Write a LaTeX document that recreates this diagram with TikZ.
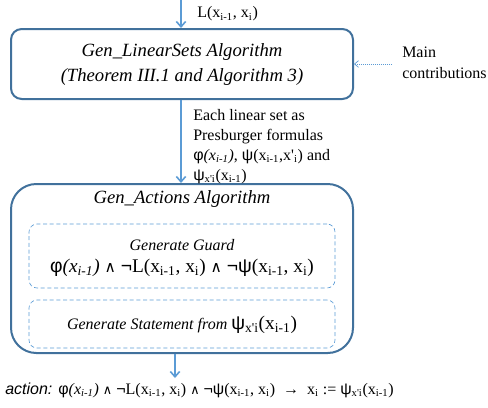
\documentclass[tikz,border=0pt]{standalone}
\usepackage{fontspec}
\setmainfont{Liberation Serif}
\newfontfamily\arial{Liberation Sans}
\newfontfamily\dejavu{DejaVu Sans}
\usetikzlibrary{arrows.meta}
\definecolor{boxblue}{HTML}{41719C}
\definecolor{arrblue}{HTML}{5B9BD5}
\newcommand{\sub}[1]{\textsubscript{#1}}
\newcommand{\phiv}{{\arial φ}}
\newcommand{\psiv}{{\arial ψ}}
\newcommand{\andnot}{{\dejavu\scalebox{0.8}{∧}} {\arial ¬}}
\newcommand{\xpi}{x\textquotesingle i}
\tikzset{
  mainbox/.style={draw=boxblue, line width=1.5pt, inner sep=0pt},
  subbox/.style={draw=arrblue, densely dashed, line width=0.5pt, rounded corners=6pt, inner sep=0pt},
  flow/.style={draw=arrblue, line width=1.2pt, -{Straight Barb[length=4pt,width=7pt]}},
  hint/.style={draw=arrblue, densely dotted, line width=0.5pt, -{Straight Barb[length=3pt,width=5pt]}},
  lbl/.style={inner sep=0pt, font=\fontsize{12}{14.5}\selectfont},
}
\begin{document}
\begin{tikzpicture}[x=0.75pt,y=-0.75pt]
\useasboundingbox (0,0) rectangle (488,407);
% boxes
\node[mainbox, rounded corners=8pt, minimum width=256.5pt, minimum height=52.5pt] (top) at (182,64) {};
\node[align=center, inner sep=0pt, font=\fontsize{14}{19}\selectfont\itshape] (toptext) at (182,64.5)
  {Gen\_LinearSets Algorithm\\(Theorem III.1 and Algorithm 3)};
\node[mainbox, rounded corners=19pt, minimum width=256.5pt, minimum height=126.75pt] (gen) at (182,268.5) {};
\node[inner sep=0pt, font=\fontsize{14}{17}\selectfont\itshape] (gentitle) at (182,199) {Gen\_Actions Algorithm};
\node[subbox, minimum width=229.5pt, minimum height=48pt] (guard) at (182,256) {};
\node[inner sep=0pt, font=\fontsize{12}{14}\selectfont\itshape] (guardtitle) at (182,245) {Generate Guard};
\node[inner sep=0pt, font=\fontsize{14.5}{17}\selectfont] (guardf) at (182,268)
  {\phiv\textit{(x\sub{i-1})} \andnot L(x\sub{i-1}, x\sub{i}) \andnot\psiv(x\sub{i-1}, x\sub{i})};
\node[subbox, minimum width=229.5pt, minimum height=36pt] (stmt) at (182,324) {};
\node[inner sep=0pt] (stmttext) at (182,325)
  {\fontsize{12}{14}\selectfont\itshape Generate Statement from \fontsize{14.5}{17}\selectfont\upshape\psiv\sub{\xpi}(x\sub{i-1})};
% labels
\node[lbl, anchor=west] (llab) at (197,14) {L(x\sub{i-1}, x\sub{i})};
\node[lbl, anchor=north west, align=left, font=\fontsize{12}{15}\selectfont] (midlab) at (193,109)
  {Each linear set as\\Presburger formulas\\\phiv\textit{(x\sub{i-1})}, \psiv(x\sub{i-1},x\textquotesingle\sub{i}) and\\\psiv\sub{\xpi}(x\sub{i-1})};
\node[lbl, anchor=west, align=left, font=\fontsize{12}{15.5}\selectfont] (main) at (402,63) {Main\\contributions};
\node[lbl, anchor=west] (action) at (5,390)
  {{\arial\itshape action: }\phiv\textit{(x\sub{i-1})} \andnot L(x\sub{i-1}, x\sub{i}) \andnot\psiv(x\sub{i-1}, x\sub{i})\ \ {\arial →}\ \ x\sub{i} := \psiv\sub{\xpi}(x\sub{i-1})};
% connectors
\coordinate (in) at (181,0);
\coordinate (out) at (175,378);
\draw[flow] (in) -- (in |- top.north);
\draw[flow] (top.south -| in) -- (gen.north -| in);
\draw[flow] (gen.south -| out) -- (out);
\draw[hint] ([xshift=-7.5pt]main.west |- top.east) -- (top.east);
\end{tikzpicture}
\end{document}
